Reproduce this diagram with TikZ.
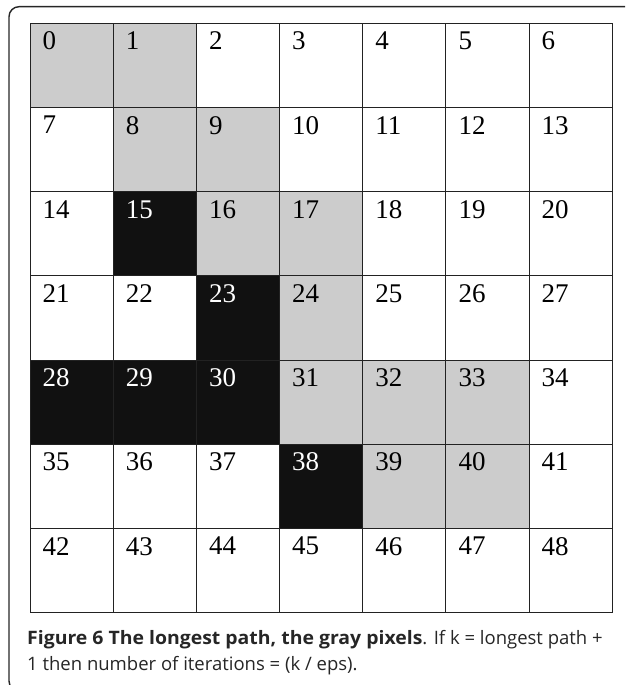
\documentclass[tikz,border=0pt]{standalone}
\usepackage{fontspec}
\setmainfont{Liberation Serif}
\newfontfamily\capfont[BoldFeatures={FakeStretch=1.05}]{Open Sans}
\definecolor{cellgray}{HTML}{CCCCCC}
\definecolor{cellblack}{HTML}{111111}
\definecolor{gridline}{HTML}{222222}
\begin{document}
\begin{tikzpicture}[x=1pt,y=-1pt,
  framestyle/.style={line width=1.4pt, draw=black!85, rounded corners=10pt},
  cellbox/.style={draw=gridline, line width=0.9pt},
  numlabel/.style={anchor=north west, inner sep=0pt, font=\fontsize{27}{27}\selectfont},
  captext/.style={anchor=base west, inner sep=0pt, font=\capfont\fontsize{18.5}{18.5}\selectfont, text=black!85}]
\useasboundingbox (0,0) rectangle (625,685);
\clip (0,0) rectangle (625,685);
% frame
\draw[framestyle] (640,6.7) -- (9,6.7) -- (9,691) -- (640,691);
% cells
\pgfmathsetmacro{\cw}{83.17}
\pgfmathsetmacro{\ch}{84.2}
\foreach \r in {0,...,6}{
  \foreach \c in {0,...,6}{
    \pgfmathtruncatemacro{\n}{\r*7+\c}
    \def\fillc{white}\def\txtc{black}
    \foreach \g in {0,1,8,9,16,17,24,31,32,33,39,40}{\ifnum\n=\g\relax\global\def\fillc{cellgray}\fi}
    \foreach \b in {15,23,28,29,30,38}{\ifnum\n=\b\relax\global\def\fillc{cellblack}\global\def\txtc{white}\fi}
    \path[cellbox, fill=\fillc] (30+\c*\cw, 23.3+\r*\ch) rectangle ++(\cw,\ch);
    \node[numlabel, text=\txtc] (n\n) at (30+\c*\cw+12.5, 23.3+\r*\ch+8.5) {\n};
    \gdef\fillc{white}\gdef\txtc{black}
  }
}
% caption
\node[captext] (cap1) at (27,644.5) {\textbf{Figure 6 The longest path, the gray pixels}. If k = longest path +};
\node[captext] (cap2) at (27,670) {1 then number of iterations = (k / eps).};
\end{tikzpicture}
\end{document}
